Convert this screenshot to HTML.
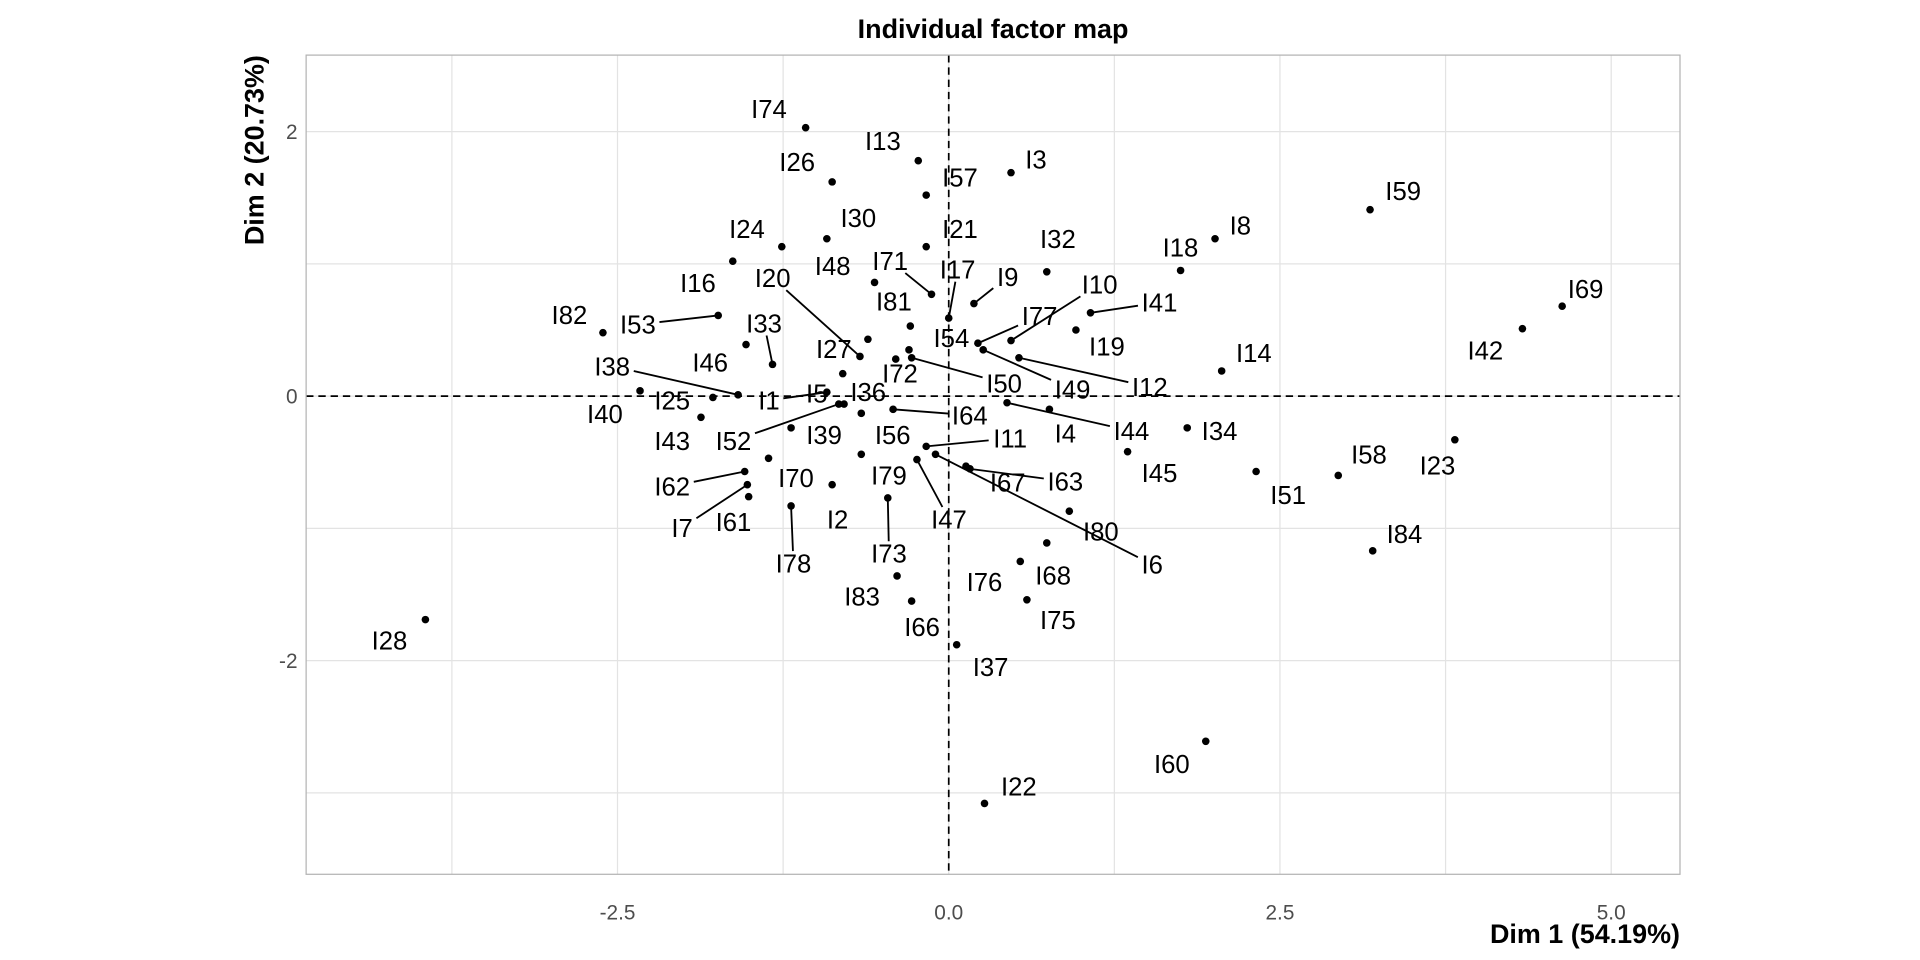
<!DOCTYPE html>
<html>
<head>
<meta charset="utf-8">
<style>
  html,body{margin:0;padding:0;background:#fff;}
  svg{display:block;}
  text{font-family:"Liberation Sans", Arial, sans-serif;}
</style>
</head>
<body>
<svg id="chart" width="1920" height="960" viewBox="0 0 1568 784" xmlns="http://www.w3.org/2000/svg">
  <rect x="0" y="0" width="1568" height="784" fill="#fff"/>
  <g id="grid"></g>
  <g id="refs"></g>
  <rect x="250" y="45" width="1122" height="669" fill="none" stroke="#b3b3b3" stroke-width="1"/>
  <g id="segments"></g>
  <g id="points"></g>
  <g id="labels"></g>
  <g id="xticks"></g>
  <g id="yticks"></g>
  <text x="811" y="31" text-anchor="middle" font-size="22" font-weight="bold" fill="#000">Individual factor map</text>
  <text x="1372" y="770" text-anchor="end" font-size="22" font-weight="bold" fill="#000">Dim 1 (54.19%)</text>
  <text transform="translate(215,45) rotate(-90)" text-anchor="end" font-size="22" font-weight="bold" fill="#000">Dim 2 (20.73%)</text>
</svg>
<script>
const names = ["I74","I13","I26","I57","I3","I59","I8","I18","I32","I24","I30","I21","I48","I16","I71","I17","I81","I27","I20","I53","I82","I33","I46","I5","I72","I9","I41","I19","I10","I77","I49","I12","I50","I14","I69","I42","I38","I40","I25","I43","I1","I36","I52","I64","I39","I56","I79","I70","I62","I7","I61","I2","I78","I73","I11","I6","I47","I67","I63","I80","I44","I4","I45","I34","I51","I58","I23","I84","I76","I68","I83","I66","I75","I37","I28","I60","I22","I54"];
const dim1 = [-1.08,-0.23,-0.88,-0.17,0.47,3.18,2.01,1.75,0.74,-1.26,-0.92,-0.17,-0.56,-1.63,-0.13,0.00,-0.29,-0.61,-0.67,-1.74,-2.61,-1.33,-1.53,-0.80,-0.40,0.19,1.07,0.96,0.47,0.22,0.26,0.53,-0.28,2.06,4.63,4.33,-1.59,-2.33,-1.78,-1.87,-0.92,-0.79,-0.83,-0.42,-1.19,-0.66,-0.66,-1.36,-1.54,-1.52,-1.51,-0.88,-1.19,-0.46,-0.17,-0.10,-0.24,0.13,0.16,0.91,0.44,0.76,1.35,1.80,2.32,2.94,3.82,3.20,0.54,0.74,-0.39,-0.28,0.59,0.06,-3.95,1.94,0.27,-0.30];
const dim2 = [2.03,1.78,1.62,1.52,1.69,1.41,1.19,0.95,0.94,1.13,1.19,1.13,0.86,1.02,0.77,0.59,0.53,0.43,0.30,0.61,0.48,0.24,0.39,0.17,0.28,0.70,0.63,0.50,0.42,0.40,0.35,0.29,0.29,0.19,0.68,0.51,0.01,0.04,-0.01,-0.16,0.03,-0.06,-0.06,-0.10,-0.24,-0.13,-0.44,-0.47,-0.57,-0.67,-0.76,-0.67,-0.83,-0.77,-0.38,-0.44,-0.48,-0.53,-0.55,-0.87,-0.05,-0.10,-0.42,-0.24,-0.57,-0.60,-0.33,-1.17,-1.25,-1.11,-1.36,-1.55,-1.54,-1.88,-1.69,-2.61,-3.08,0.35];
const labelDim1 = [-1.357,-0.497,-1.144,0.085,0.658,3.430,2.201,1.749,0.824,-1.523,-0.682,0.085,-0.876,-1.893,-0.442,0.067,-0.414,-0.867,-1.329,-2.346,-2.863,-1.394,-1.800,-0.996,-0.368,0.445,1.591,1.194,1.139,0.686,0.935,1.518,0.418,2.303,4.807,4.050,-2.540,-2.595,-2.087,-2.087,-1.357,-0.608,-1.625,0.159,-0.941,-0.423,-0.451,-1.153,-2.087,-2.013,-1.625,-0.839,-1.172,-0.451,0.464,1.536,0.002,0.445,0.880,1.148,1.379,0.880,1.591,2.044,2.562,3.172,3.689,3.440,0.270,0.788,-0.654,-0.201,0.824,0.316,-4.221,1.684,0.529,0.020];
const labelDim2 = [2.171,1.931,1.773,1.653,1.792,1.551,1.292,1.125,1.190,1.264,1.347,1.264,0.986,0.856,1.023,0.958,0.718,0.356,0.894,0.542,0.616,0.551,0.255,0.023,0.171,0.903,0.708,0.375,0.847,0.606,0.051,0.069,0.097,0.329,0.810,0.347,0.227,-0.134,-0.032,-0.338,-0.032,0.032,-0.338,-0.144,-0.292,-0.292,-0.597,-0.616,-0.681,-0.995,-0.949,-0.931,-1.264,-1.190,-0.319,-1.273,-0.931,-0.653,-0.644,-1.023,-0.264,-0.282,-0.579,-0.264,-0.745,-0.440,-0.523,-1.042,-1.403,-1.356,-1.514,-1.745,-1.690,-2.046,-1.847,-2.782,-2.949,0.440];
const segmentNames = ["I71","I17","I20","I53","I33","I9","I41","I10","I77","I49","I12","I50","I38","I1","I52","I64","I62","I7","I78","I73","I11","I6","I47","I63","I44"];
const xTickValues = [-2.5, 0, 2.5, 5];
const xTickLabels = ["-2.5","0.0","2.5","5.0"];
const yTickValues = [2, 0, -2];
const yTickLabels = ["2","0","-2"];
const xGridValues = [-3.75,-2.5,-1.25,0,1.25,2.5,3.75,5];
const yGridValues = [2,1,0,-1,-2,-3];

const NS = "http://www.w3.org/2000/svg";
const X0 = 774.8, XS = 108.2, Y0 = 323.5, YS = 108;
const PL = 250, PR = 1372, PT = 45, PB = 714;
function sx(v){ return X0 + v*XS; }
function sy(v){ return Y0 - v*YS; }
function mk(tag, attrs, parent){
  const el = document.createElementNS(NS, tag);
  for (const k in attrs) el.setAttribute(k, attrs[k]);
  parent.appendChild(el);
  return el;
}
const gGrid = document.getElementById('grid');
xGridValues.forEach(v=>{
  const l = mk('line',{x1:sx(v),x2:sx(v),y1:PT,y2:PB,stroke:'#e3e3e3','stroke-width':1},gGrid);
  
  
});
yGridValues.forEach(v=>{
  const l = mk('line',{x1:PL,x2:PR,y1:sy(v),y2:sy(v),stroke:'#e3e3e3','stroke-width':1},gGrid);
  
  
});
const gRefs = document.getElementById('refs');
const vref = mk('line',{x1:sx(0),x2:sx(0),y1:PT,y2:PB,stroke:'#000','stroke-width':1.4,'stroke-dasharray':'6,4'},gRefs);


const href = mk('line',{x1:PL,x2:PR,y1:sy(0),y2:sy(0),stroke:'#000','stroke-width':1.4,'stroke-dasharray':'6,4'},gRefs);



const gX = document.getElementById('xticks');
xTickValues.forEach((v,i)=>{
  const t = mk('text',{x:sx(v),y:751,'text-anchor':'middle','font-size':17,fill:'#4d4d4d'},gX);
  t.textContent = xTickLabels[i];
  
  
});
const gY = document.getElementById('yticks');
yTickValues.forEach((v,i)=>{
  const t = mk('text',{x:243,y:sy(v)+6,'text-anchor':'end','font-size':17,fill:'#4d4d4d'},gY);
  t.textContent = yTickLabels[i];
  
  
});

const gS = document.getElementById('segments');
const gP = document.getElementById('points');
const gL = document.getElementById('labels');
const FS = 21;
names.forEach((n,i)=>{
  const px = sx(dim1[i]), py = sy(dim2[i]);
  const lx = sx(labelDim1[i]), ly = sy(labelDim2[i]);
  if (segmentNames.indexOf(n) >= 0){
    const w = (FS*0.278 + FS*0.556*(n.length-1))/2 + 3, h = 10;
    const dx = px - lx, dy = py - ly;
    let t = 1;
    if (dx !== 0) t = Math.min(t, w/Math.abs(dx));
    if (dy !== 0) t = Math.min(t, h/Math.abs(dy));
    if (t < 1){
      const s = mk('line',{x1:lx+dx*t,y1:ly+dy*t,x2:px,y2:py,stroke:'#000','stroke-width':1.5},gS);
      
      
    }
  }
  const c = mk('circle',{cx:px,cy:py,r:3.1,fill:'#000'},gP);
  
  
  const t = mk('text',{x:lx,y:ly+7.5,'text-anchor':'middle','font-size':FS,fill:'#000'},gL);
  t.textContent = n;
  
  
});
</script>
</body>
</html>
